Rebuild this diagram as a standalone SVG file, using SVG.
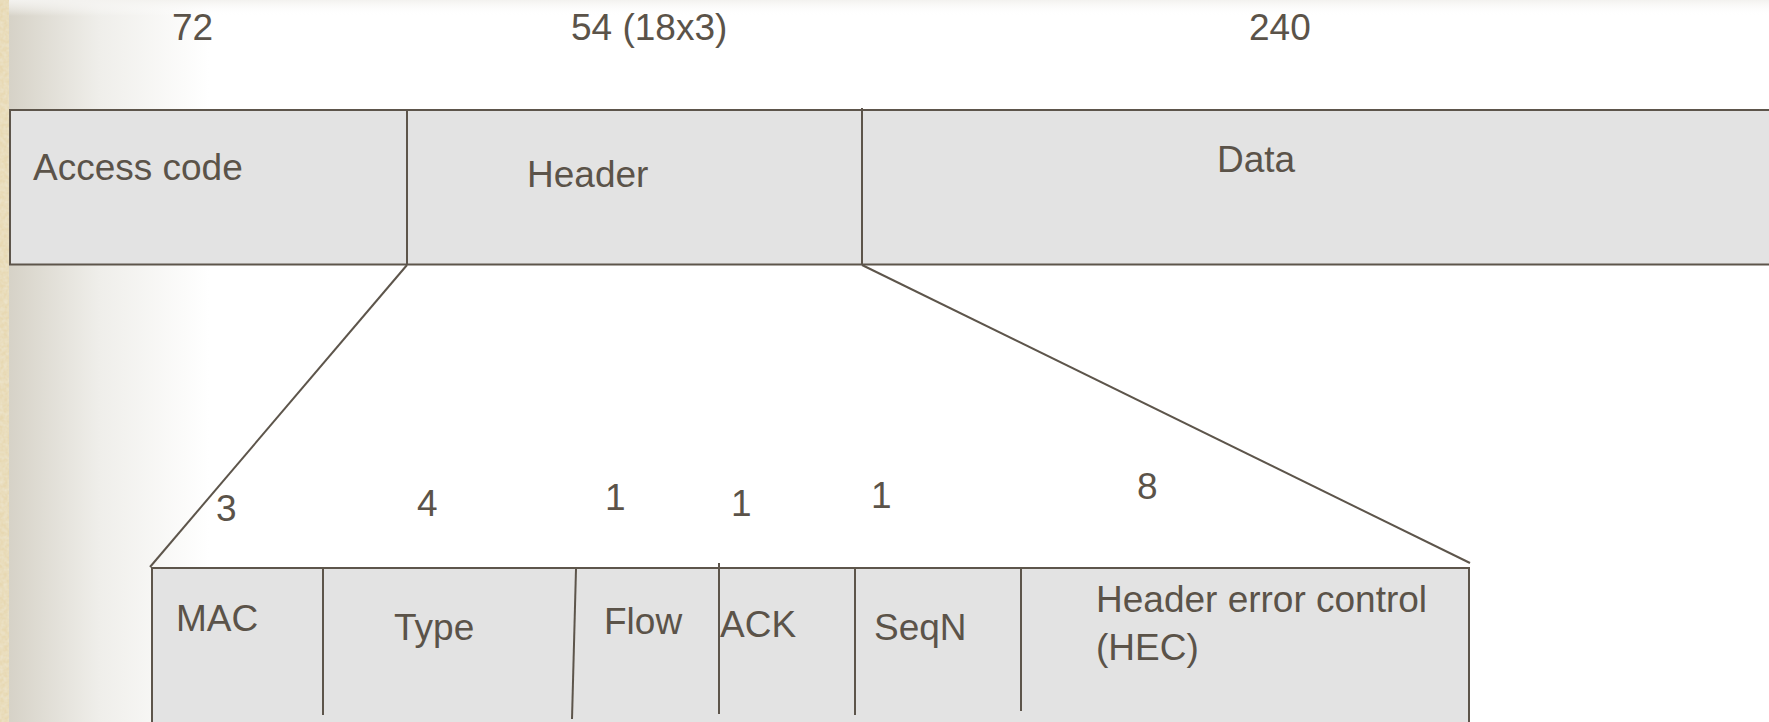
<svg xmlns="http://www.w3.org/2000/svg" width="1769" height="722" viewBox="0 0 1769 722">
<style>
.t{font-family:"Liberation Sans",Arial,sans-serif;font-size:37px;fill:#5b5349}
.box{fill:#e3e3e3;stroke:#5d554b;stroke-width:2}
.ln{stroke:#5d554b;stroke-width:2;fill:none}
</style>
<defs>
<linearGradient id="lg" x1="0" y1="0" x2="1" y2="0">
<stop offset="0" stop-color="#d6d2c7"/>
<stop offset="0.45" stop-color="#efeeea"/>
<stop offset="1" stop-color="#ffffff"/>
</linearGradient>
<linearGradient id="tg" x1="0" y1="0" x2="0" y2="1">
<stop offset="0" stop-color="#f3f2ef"/>
<stop offset="1" stop-color="#ffffff" stop-opacity="0"/>
</linearGradient>
<filter id="tex" x="0" y="0" width="1" height="1">
<feTurbulence type="fractalNoise" baseFrequency="0.25" numOctaves="2" seed="3"/>
<feColorMatrix type="matrix" values="0 0 0 0 0.86  0 0 0 0 0.80  0 0 0 0 0.64  0 0 0 -1.2 0.9"/>
<feComposite in2="SourceGraphic" operator="in"/>
</filter>
</defs>
<g id="background">
<rect x="0" y="0" width="1769" height="722" fill="#ffffff"/>
<rect x="9" y="0" width="200" height="722" fill="url(#lg)"/>
<rect x="0" y="0" width="1769" height="16" fill="url(#tg)"/>
<rect x="0" y="0" width="9" height="722" fill="#e7d8b2"/>
<rect x="0" y="0" width="9" height="722" fill="#e7d8b2" filter="url(#tex)"/>
</g>
<g id="sizes-top">
<text class="t" x="172" y="40">72</text>
<text class="t" x="571" y="40">54 (18x3)</text>
<text class="t" x="1249" y="40">240</text>
</g>
<g id="packet">
<rect class="box" x="10" y="110" width="1800" height="154.5"/>
<g id="access-code"><text class="t" x="33" y="180">Access code</text></g>
<g id="header"><line class="ln" x1="407" y1="110" x2="407" y2="265"/><text class="t" x="527" y="187">Header</text></g>
<g id="data"><line class="ln" x1="862" y1="108" x2="862" y2="265"/><text class="t" x="1217" y="172">Data</text></g>
</g>
<g id="connectors">
<line class="ln" x1="407" y1="265" x2="150" y2="567"/>
<line class="ln" x1="862" y1="265" x2="1470" y2="563"/>
</g>
<g id="sizes-bottom">
<text class="t" x="216" y="521">3</text>
<text class="t" x="417" y="516">4</text>
<text class="t" x="605" y="510">1</text>
<text class="t" x="731" y="516">1</text>
<text class="t" x="871" y="508">1</text>
<text class="t" x="1137" y="499">8</text>
</g>
<g id="header-fields">
<rect class="box" x="152" y="568" width="1317" height="180"/>
<g id="mac"><text class="t" x="176" y="631">MAC</text></g>
<g id="type"><line class="ln" x1="323" y1="568" x2="323" y2="715"/><text class="t" x="394" y="640">Type</text></g>
<g id="flow"><line class="ln" x1="576" y1="569" x2="572" y2="719"/><text class="t" x="604" y="634">Flow</text></g>
<g id="ack"><line class="ln" x1="719" y1="563" x2="719" y2="714"/><text class="t" x="720" y="637">ACK</text></g>
<g id="seqn"><line class="ln" x1="855" y1="569" x2="855" y2="715"/><text class="t" x="874" y="640">SeqN</text></g>
<g id="hec"><line class="ln" x1="1021" y1="569" x2="1021" y2="711"/><text class="t" x="1096" y="612">Header error control</text><text class="t" x="1096" y="660">(HEC)</text></g>
</g>
</svg>
